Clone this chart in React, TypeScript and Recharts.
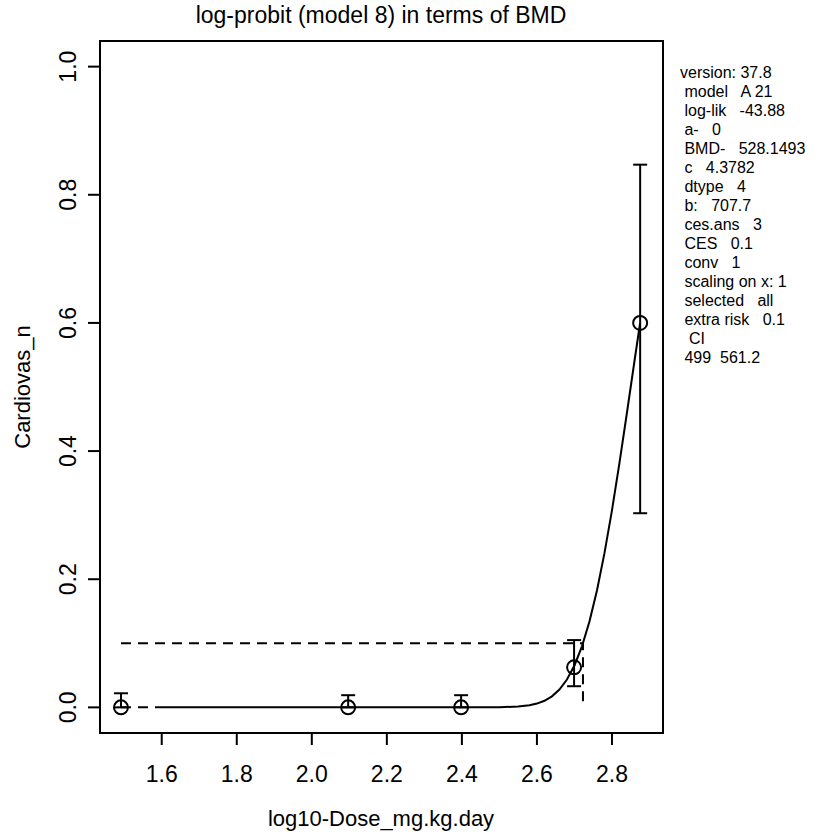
import React from 'react';
import {
  ComposedChart,
  Line,
  Scatter,
  XAxis,
  YAxis,
  ErrorBar,
  ReferenceArea
} from 'recharts';

// observed dose groups (log10 dose) with fraction responding and CI bounds
const doseLog = [1.4914, 2.0969, 2.3979, 2.699, 2.8751];
const response = [0, 0, 0, 0.0625, 0.6];
const ciLow = [0, 0, 0, 0.033, 0.303];
const ciHigh = [0.022, 0.019, 0.019, 0.105, 0.847];

// fitted log-probit curve
const fitX = [1.59, 2.0, 2.4, 2.5, 2.55, 2.58, 2.6, 2.62, 2.64, 2.66, 2.68, 2.7, 2.72, 2.74, 2.76, 2.78, 2.8, 2.82, 2.84, 2.86, 2.875];
const fitY = [0, 0, 0, 0.0002, 0.0013, 0.0033, 0.0059, 0.0103, 0.0172, 0.0278, 0.0434, 0.0654, 0.0953, 0.134, 0.1825, 0.2407, 0.3075, 0.3817, 0.4602, 0.5406, 0.5999];

// dashed piece of the curve below the first dose
const tailX = [1.4914, 1.59];
const tailY = [0, 0];

// CES / BMD guide line
const bmdX = [1.4914, 2.7227, 2.7227];
const bmdY = [0.1, 0.1, 0];

const xTicks = [1.6, 1.8, 2.0, 2.2, 2.4, 2.6, 2.8];
const yTicks = [0, 0.2, 0.4, 0.6, 0.8, 1.0];

const infoLines = [
  'version: 37.8',
  ' model   A 21',
  ' log-lik   -43.88',
  ' a-   0',
  ' BMD-   528.1493',
  ' c   4.3782',
  ' dtype   4',
  ' b:   707.7',
  ' ces.ans   3',
  ' CES   0.1',
  ' conv   1',
  ' scaling on x: 1',
  ' selected   all',
  ' extra risk   0.1',
  '  CI',
  ' 499  561.2'
];

const FONT = '"Liberation Sans", Arial, sans-serif';
const X_DOMAIN = [1.4355, 2.936];
const Y_DOMAIN = [-0.04, 1.04];

const points = doseLog.map((x, i) => ({
  x,
  y: response[i],
  err: [response[i] - ciLow[i], ciHigh[i] - response[i]]
}));
const fit = fitX.map((x, i) => ({ x, y: fitY[i] }));
const tail = tailX.map((x, i) => ({ x, y: tailY[i] }));
const bmd = bmdX.map((x, i) => ({ x, y: bmdY[i] }));

const XTick = ({ x, payload }: any) => (
  <text x={x} y={782} textAnchor="middle" fontSize={23} fontFamily={FONT} fill="#000">
    {payload.value.toFixed(1)}
  </text>
);

const YTick = ({ y, payload }: any) => (
  <text
    x={76}
    y={y}
    textAnchor="middle"
    fontSize={23}
    fontFamily={FONT}
    fill="#000"
    transform={`rotate(-90, 76, ${y})`}
  >
    {payload.value.toFixed(1)}
  </text>
);

const OpenCircle = ({ cx, cy }: any) => (
  <circle cx={cx} cy={cy} r={7} fill="none" stroke="#000" strokeWidth={2} />
);

export default function App() {
  return (
    <div style={{ position: 'absolute', left: 0, top: 0, width: 832, height: 832, background: '#fff' }}>
      <ComposedChart
        width={832}
        height={832}
        margin={{ top: 41, right: 169, bottom: 39, left: 0 }}
      >
        <XAxis
          type="number"
          dataKey="x"
          domain={X_DOMAIN}
          allowDataOverflow
          ticks={xTicks}
          tickSize={12}
          height={60}
          tick={<XTick />}
          stroke="#000"
          strokeWidth={2}
        />
        <YAxis
          type="number"
          dataKey="y"
          domain={Y_DOMAIN}
          allowDataOverflow
          ticks={yTicks}
          tickSize={12}
          width={100}
          tick={<YTick />}
          stroke="#000"
          strokeWidth={2}
        />
        <ReferenceArea
          x1={X_DOMAIN[0]}
          x2={X_DOMAIN[1]}
          y1={Y_DOMAIN[0]}
          y2={Y_DOMAIN[1]}
          fill="none"
          fillOpacity={0}
          stroke="#000"
          strokeWidth={2}
        />
        <Line data={bmd} dataKey="y" type="linear" stroke="#000" strokeWidth={2} strokeDasharray="10 7" dot={false} isAnimationActive={false} />
        <Line data={tail} dataKey="y" type="linear" stroke="#000" strokeWidth={2} strokeDasharray="10 7" dot={false} isAnimationActive={false} />
        <Line data={fit} dataKey="y" type="linear" stroke="#000" strokeWidth={2} dot={false} isAnimationActive={false} />
        <Scatter data={points} dataKey="y" shape={<OpenCircle />} isAnimationActive={false}>
          <ErrorBar dataKey="err" direction="y" width={7} stroke="#000" strokeWidth={2} isAnimationActive={false} />
        </Scatter>
      </ComposedChart>
      <svg
        width={832}
        height={832}
        style={{ position: 'absolute', left: 0, top: 0, pointerEvents: 'none' }}
        fontFamily={FONT}
      >
        <text x={381} y={23} textAnchor="middle" fontSize={23} fill="#000">
          log-probit (model 8) in terms of BMD
        </text>
        <text x={381} y={826} textAnchor="middle" fontSize={22} fill="#000">
          log10-Dose_mg.kg.day
        </text>
        <text x={30} y={387} textAnchor="middle" fontSize={22} fill="#000" transform="rotate(-90, 30, 387)">
          Cardiovas_n
        </text>
        {infoLines.map((s, i) => (
          <text key={i} x={680} y={78 + i * 19} fontSize={16} fill="#000" style={{ whiteSpace: 'pre' }}>
            {s}
          </text>
        ))}
      </svg>
    </div>
  );
}
